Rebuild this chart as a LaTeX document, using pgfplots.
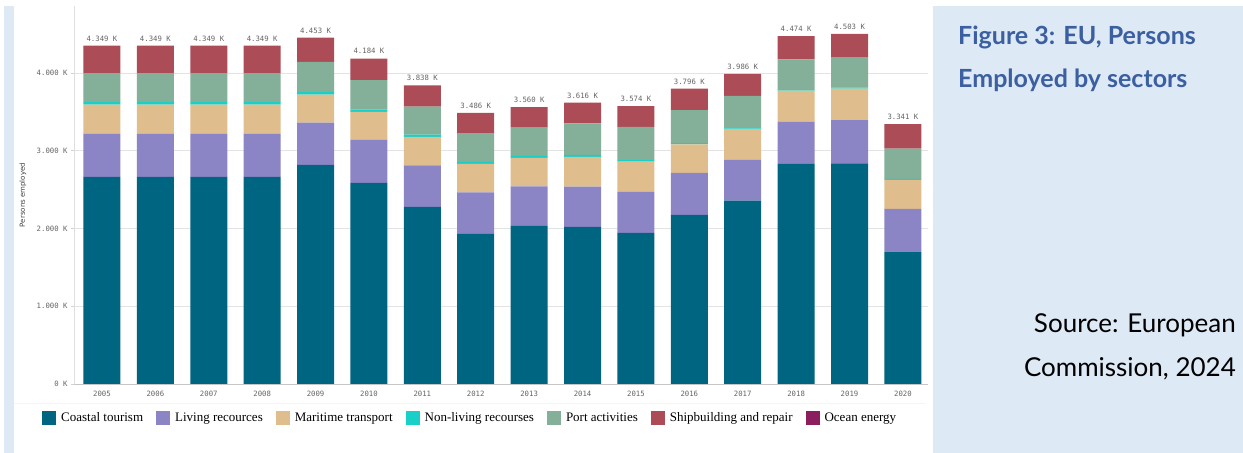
\documentclass[border=0pt]{standalone}
\usepackage{fontspec}
\setmainfont{Liberation Serif}
\newfontfamily\monof{DejaVu Sans Mono}
\newfontfamily\sansf{DejaVu Sans}
\newfontfamily\latof{Lato}
\usepackage{pgfplots}
\pgfplotsset{compat=1.18}
\usepackage{pgfplotstable}
\definecolor{ctour}{RGB}{0,101,128}
\definecolor{cliving}{RGB}{139,133,198}
\definecolor{cmarit}{RGB}{224,189,140}
\definecolor{cnonliv}{RGB}{24,208,200}
\definecolor{cport}{RGB}{132,175,152}
\definecolor{cship}{RGB}{172,76,87}
\definecolor{cocean}{RGB}{139,30,95}
\definecolor{panelblue}{RGB}{221,233,245}
\definecolor{titleblue}{RGB}{59,95,160}
\definecolor{ticktext}{RGB}{100,100,100}

\pgfplotstableread[col sep=comma]{
x,coastal,living,maritime,nonliving,port,ship,ocean,total,tot
0,2662,553,378,30,373,353,0,4349,4.349 K
1,2662,553,378,30,373,353,0,4349,4.349 K
2,2662,553,378,30,373,353,0,4349,4.349 K
3,2662,553,378,30,373,353,0,4349,4.349 K
4,2817,544,360,30,390,312,0,4453,4.453 K
5,2585,553,360,30,378,278,0,4184,4.184 K
6,2277,535,365,30,360,271,0,3838,3.838 K
7,1929,536,365,25,369,262,0,3486,3.486 K
8,2032,509,366,25,365,263,0,3560,3.560 K
9,2019,518,383,25,407,264,0,3616,3.616 K
10,1942,527,390,20,426,269,0,3574,3.574 K
11,2174,540,368,15,423,276,0,3796,3.796 K
12,2358,523,395,10,418,282,0,3986,3.986 K
13,2830,540,402,10,393,299,0,4474,4.474 K
14,2838,553,407,15,384,306,0,4503,4.503 K
15,1702,549,373,13,389,315,0,3341,3.341 K
}\data

\begin{document}
\begin{tikzpicture}
\fill[white] (0,0) rectangle (1243bp,453bp);
\fill[panelblue] (4bp,0) rectangle (14bp,447bp);
\fill[panelblue] (933bp,0) rectangle (1243bp,447bp);
\draw[gray!8, line width=0.8bp] (14bp,50bp) -- (926bp,50bp);
\begin{axis}[
  at={(74bp,69bp)}, anchor=south west,
  scale only axis, width=854bp, height=378bp,
  xmin=-0.524, xmax=15.47, ymin=0, ymax=4860,
  ybar stacked, bar width=37bp,
  axis x line*=bottom, axis y line*=left,
  x axis line style={-, draw=gray!45, line width=0.8bp},
  y axis line style={-, draw=gray!25, line width=0.8bp},
  xtick={0,...,15},
  xticklabels={2005,2006,2007,2008,2009,2010,2011,2012,2013,2014,2015,2016,2017,2018,2019,2020},
  ytick={0,1000,2000,3000,4000},
  yticklabels={0 K,1.000 K,2.000 K,3.000 K,4.000 K},
  ymajorgrids, grid style={draw=gray!22, line width=0.7bp},
  xtick style={draw=none},
  ytick style={draw=gray!35, line width=0.6bp},
  tick align=outside, major tick length=3bp,
  tick label style={font=\monof\fontsize{7.3bp}{9bp}\selectfont, text=ticktext},
  xticklabel style={yshift=-1bp},
  ylabel={Persons employed},
  ylabel style={at={(axis description cs:-0.0597,0.5)}, anchor=center, font=\sansf\fontsize{7bp}{8bp}\selectfont, text=black!75},
  legend columns=-1,
  legend style={draw=none, fill=none, inner sep=0pt, at={(axis description cs:-0.0375,-0.09)}, anchor=west,
    font=\fontsize{13bp}{15bp}\selectfont,
    /tikz/every odd column/.append style={column sep=3bp},
    /tikz/every even column/.append style={column sep=11bp}},
  legend image code/.code={\fill[#1] (0bp,-7bp) rectangle (14bp,7bp);},
  clip=false,
]
\addplot[fill=ctour, draw=none] table[x=x,y=coastal]{\data};
\addlegendentry{Coastal tourism}
\addplot[fill=cliving, draw=none] table[x=x,y=living]{\data};
\addlegendentry{Living recources}
\addplot[fill=cmarit, draw=none] table[x=x,y=maritime]{\data};
\addlegendentry{Maritime transport}
\addplot[fill=cnonliv, draw=none] table[x=x,y=nonliving]{\data};
\addlegendentry{Non-living recourses}
\addplot[fill=cport, draw=none] table[x=x,y=port]{\data};
\addlegendentry{Port activities}
\addplot[fill=cship, draw=none] table[x=x,y=ship]{\data};
\addlegendentry{Shipbuilding and repair}
\addplot[fill=cocean, draw=none] table[x=x,y=ocean]{\data};
\addlegendentry{Ocean energy}
\end{axis}
\begin{axis}[
  at={(74bp,69bp)}, anchor=south west,
  scale only axis, width=854bp, height=378bp,
  xmin=-0.524, xmax=15.47, ymin=0, ymax=4860,
  hide axis, clip=false,
]
\addplot[only marks, mark=none, nodes near coords, point meta=explicit symbolic,
  every node near coord/.append style={font=\monof\fontsize{7.3bp}{9bp}\selectfont, text=ticktext, anchor=south, yshift=1bp}]
  table[x=x,y=total,meta=tot]{\data};
\end{axis}
\node[anchor=base west, inner sep=0pt, text=titleblue, font=\latof\bfseries\fontsize{25bp}{28bp}\selectfont] at (958bp,408bp) {Figure 3: EU, Persons};
\node[anchor=base west, inner sep=0pt, text=titleblue, font=\latof\bfseries\fontsize{25bp}{28bp}\selectfont] at (958bp,365bp) {Employed by sectors};
\node[anchor=base east, inner sep=0pt, font=\latof\fontsize{26bp}{28bp}\selectfont] at (1236bp,120bp) {Source: European};
\node[anchor=base east, inner sep=0pt, font=\latof\fontsize{26bp}{28bp}\selectfont] at (1236bp,76bp) {Commission, 2024};
\end{tikzpicture}
\end{document}
